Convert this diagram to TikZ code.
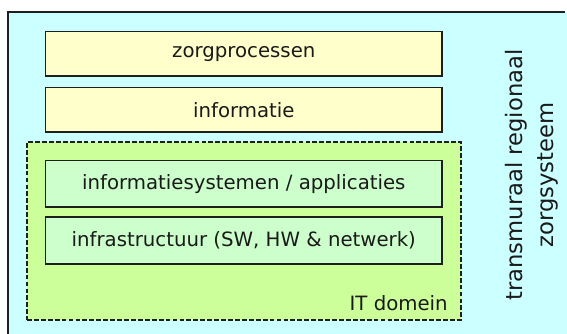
\documentclass[tikz,border=0pt]{standalone}
\usepackage{fontspec}
\setmainfont{DejaVu Sans}
\definecolor{sysfill}{HTML}{CCFFFF}
\definecolor{layerfill}{HTML}{FFFFCC}
\definecolor{itfill}{HTML}{CCFF99}
\definecolor{itlayerfill}{HTML}{CCFFCC}
\definecolor{edgecol}{HTML}{1E1E1E}
\definecolor{txtcol}{HTML}{1A1A1A}
\tikzset{
  layer/.style={draw=edgecol, line width=1.1pt, inner sep=0pt,
    minimum width=297.3pt, minimum height=34pt, text=txtcol,
    font=\fontsize{14.8}{18}\selectfont},
  domainbox/.style={draw=edgecol, line width=0.95pt, dash pattern=on 3.6pt off 1.6pt,
    fill=itfill, inner sep=0pt, minimum width=325.5pt, minimum height=133.5pt},
}
\begin{document}
\begin{tikzpicture}[x=0.75pt,y=-0.75pt]
\useasboundingbox (0,0) rectangle (567,334);
% surrounding regional care system
\fill[sysfill] (8,12) rectangle (567,334);
\draw[edgecol, line width=1.1pt] (8,334) -- (8,12) -- (565,12);
% IT domain
\node[domainbox] (itdomain) at (244,231) {};
\node[anchor=east, inner sep=0pt, text=txtcol, font=\fontsize{14.8}{18}\selectfont]
  (itlabel) at (448,303) {IT domein};
% layers
\node[layer, fill=layerfill, minimum height=33.5pt] (zorg) at (243.8,53.7) {zorgprocessen};
\node[layer, fill=layerfill, minimum height=33.5pt] (info) at (243.8,109.7) {informatie};
\node[layer, fill=itlayerfill, minimum height=35pt] (apps) at (243.8,183.7) {informatiesystemen / applicaties};
\node[layer, fill=itlayerfill, minimum height=35pt] (infra) at (243.8,240.5) {infrastructuur (SW, HW \& netwerk)};
% system label
\node[rotate=90, align=center, inner sep=0pt, text=txtcol,
  font=\fontsize{17}{23.25}\selectfont] (syslabel) at (532,175)
  {transmuraal regionaal\\zorgsysteem};
\end{tikzpicture}
\end{document}
